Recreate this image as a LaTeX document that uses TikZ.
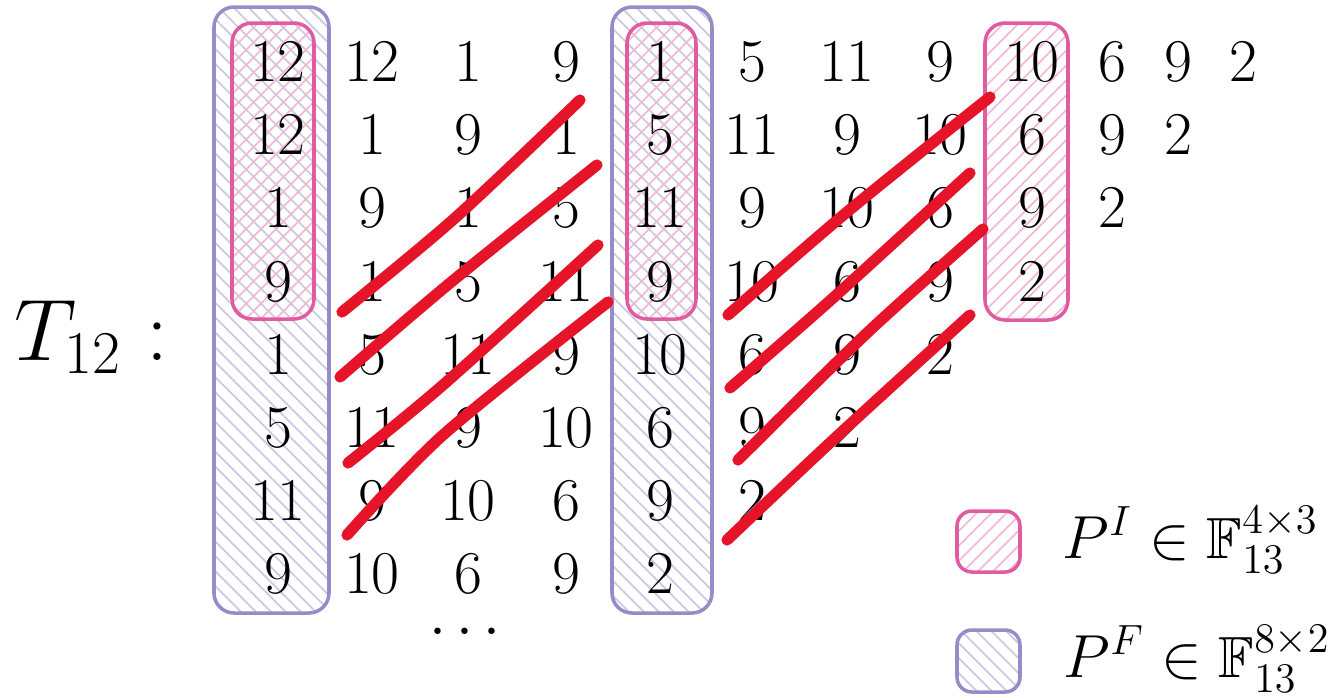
\documentclass[tikz,border=0pt]{standalone}
\usepackage{amsmath}
\usepackage{amssymb}
\usepackage{tikz}
\usetikzlibrary{patterns.meta}
\usepackage{xcolor}
\definecolor{fcol}{RGB}{150,140,200}
\definecolor{icol}{RGB}{224,92,160}
\definecolor{fhatch}{RGB}{205,200,228}
\definecolor{ihatch}{RGB}{242,185,214}
\definecolor{scrc}{RGB}{230,20,40}
\tikzset{
  ent/.style={inner sep=0pt,font=\fontsize{16.5}{20}\selectfont},
  fbox/.style={rounded corners=0.2cm,draw=fcol,line width=1pt,pattern={Lines[angle=-45,distance=3pt,line width=0.5pt]},pattern color=fhatch},
  ibox/.style={rounded corners=0.2cm,draw=icol,line width=1pt,pattern={Lines[angle=45,distance=3pt,line width=0.5pt]},pattern color=ihatch},
  scr/.style={scrc,line width=3.2pt,line cap=round,line join=round},
}

\begin{document}
\begin{tikzpicture}[x=0.01cm,y=-0.01cm]
  \useasboundingbox (0,0) rectangle (1329,699);
  % the two P^F columns, then the P^I blocks on top
  \draw[fbox] (214,7) rectangle (329,613);
  \draw[fbox] (612,7) rectangle (712,613);
  \draw[ibox] (232,23) rectangle (314,319);
  \draw[ibox] (627,23) rectangle (696,319);
  \draw[ibox] (985,23) rectangle (1068,320);
  % Hankel rows: row r is the sequence shifted by r
  \foreach \r in {0,...,7}{
    \pgfmathtruncatemacro\last{11-\r}
    \foreach \c in {0,...,\last}{
      \pgfmathtruncatemacro\val{{12,12,1,9,1,5,11,9,10,6,9,2}[\r+\c]}
      \pgfmathsetmacro\xx{{278,372,468,566,660,752,847,940,1032,1112,1178,1243}[\c]}
      \node[ent] (e-\r-\c) at (\xx,62+73.2*\r) {$\val$};
    }
  }
  \node[ent,anchor=base] (dots) at (470,646) {$\cdots$};
  \node[font=\fontsize{23}{28}\selectfont,anchor=base west,inner sep=0pt] (tlab) at (14,360) {$T_{12}:$};
  % strike-outs
  \draw[scr] plot[smooth] coordinates {(342,312)(455,218)(580,100)};
  \draw[scr] plot[smooth] coordinates {(340,377)(450,283)(597,165)};
  \draw[scr] plot[smooth] coordinates {(348,463)(443,385)(598,245)};
  \draw[scr] plot[smooth] coordinates {(347,535)(443,435)(608,302)};
  \draw[scr] plot[smooth] coordinates {(728,315)(847,212)(990,97)};
  \draw[scr] plot[smooth] coordinates {(730,388)(833,298)(970,173)};
  \draw[scr] plot[smooth] coordinates {(738,460)(867,333)(983,229)};
  \draw[scr] plot[smooth] coordinates {(727,540)(833,440)(970,315)};
  % legend
  \draw[ibox,rounded corners=0.15cm] (957,511) rectangle (1020,572);
  \draw[fbox,rounded corners=0.15cm] (957,630) rectangle (1020,692);
  \node[ent,anchor=base west] (legI) at (1062,558) {$P^I \in \mathbb{F}_{13}^{4\times 3}$};
  \node[ent,anchor=base west] (legF) at (1063,677) {$P^F \in \mathbb{F}_{13}^{8\times 2}$};
\end{tikzpicture}
\end{document}
